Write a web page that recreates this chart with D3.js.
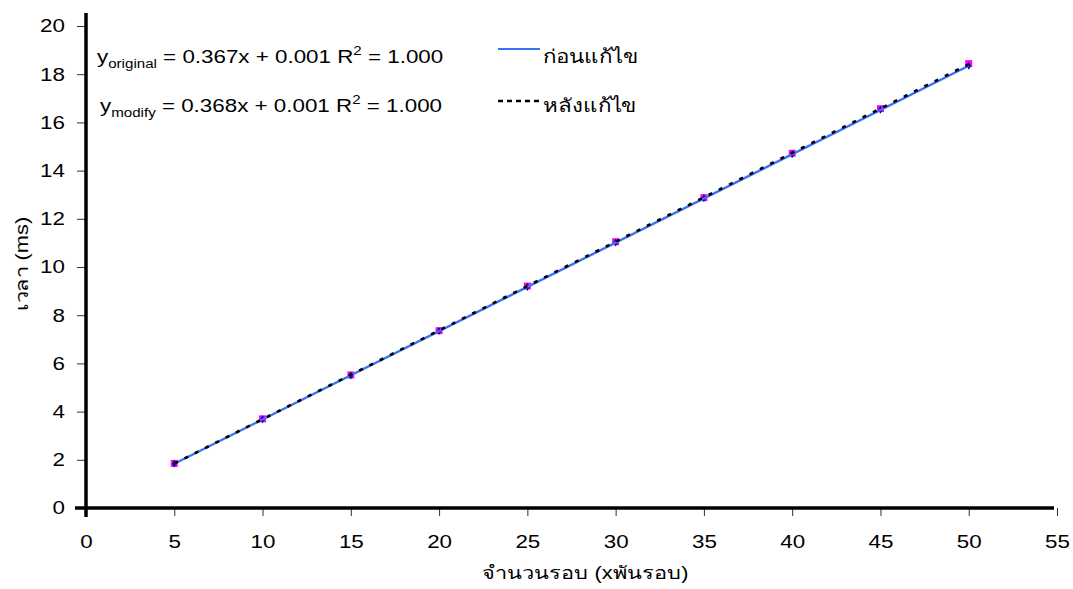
<!DOCTYPE html>
<html><head><meta charset="utf-8">
<script src="https://cdn.jsdelivr.net/npm/d3@7"></script>
<style>body{margin:0;background:#fff}text{font-family:"Liberation Sans",Arial,sans-serif}</style>
</head><body><svg id="c" width="1073" height="589"></svg>
<script>
const xValues = [5,10,15,20,25,30,35,40,45,50];
const originalValues = [1.84,3.68,5.50,7.34,9.17,11.01,12.85,14.68,16.52,18.35];
const modifyValues = [1.85,3.70,5.52,7.36,9.21,11.05,12.88,14.72,16.57,18.44];
const xTicks = [0,5,10,15,20,25,30,35,40,45,50,55];
const yTicks = [0,2,4,6,8,10,12,14,16,18,20];
const seriesNames = ["ก่อนแก้ไข","หลังแก้ไข"];
const equations = [
  {sub:"original", text:" = 0.367x + 0.001 R", r2:" = 1.000"},
  {sub:"modify", text:" = 0.368x + 0.001 R", r2:" = 1.000"}
];
const xTitle = "จำนวนรอบ (xพันรอบ)";
const yTitle = "เวลา (ms)";

const SX = 1.21, FS = 18.5;
const svg = d3.select("#c");
const x = d3.scaleLinear().domain([0,55]).range([86,1057]);
const y = d3.scaleLinear().domain([0,20]).range([508,26]);

function fit(xs, ys){
  const n=xs.length, mx=d3.mean(xs), my=d3.mean(ys);
  let sxy=0,sxx=0; for(let i=0;i<n;i++){sxy+=(xs[i]-mx)*(ys[i]-my);sxx+=(xs[i]-mx)**2;}
  const b=sxy/sxx; return {b, a:my-b*mx};
}
function stext(px, py, opts={}){
  return svg.append("g").attr("transform",`translate(${px},${py}) ${opts.rot?`rotate(${opts.rot})`:""} scale(${SX},1)`)
    .append("text").attr("font-size",opts.fs||FS).attr("fill","#000").attr("text-anchor",opts.anchor||"start");
}

// axes
const xAxis = d3.axisBottom(x).tickValues(xTicks).tickSize(8).tickPadding(19);
const gx = svg.append("g").attr("transform","translate(0,508)").call(xAxis);
gx.select(".domain").remove();
gx.selectAll("line").attr("stroke","#333");
gx.selectAll("text").attr("font-size",FS).attr("fill","#000").attr("transform",`scale(${SX},1)`);
const yAxis = d3.axisLeft(y).tickValues(yTicks).tickSize(9).tickPadding(8.5);
const gy = svg.append("g").attr("transform","translate(86,0)").call(yAxis);
gy.select(".domain").remove();
gy.selectAll("line").attr("stroke","#333");
gy.selectAll("text").attr("font-size",FS).attr("fill","#000").attr("transform",`scale(${SX},1)`);

svg.append("line").attr("x1",75).attr("x2",1054).attr("y1",508).attr("y2",508).attr("stroke","#000").attr("stroke-width",3.5);
svg.append("line").attr("x1",86).attr("x2",86).attr("y1",13).attr("y2",517).attr("stroke","#000").attr("stroke-width",3.5);

// markers
const g = svg.append("g");
g.selectAll(".sq").data(xValues).join("rect")
  .attr("x",(d,i)=>x(d)-3.5).attr("y",(d,i)=>y(modifyValues[i])-3.5)
  .attr("width",7).attr("height",7).attr("fill","#ff00ff");
g.selectAll(".dm").data(xValues).join("path")
  .attr("d",d3.symbol(d3.symbolDiamond,18))
  .attr("transform",(d,i)=>`translate(${x(d)},${y(originalValues[i])})`)
  .attr("fill","#000080");

// trendlines
const f1 = fit(xValues, originalValues), f2 = fit(xValues, modifyValues);
const xr = d3.extent(xValues);
const line = d3.line().x(d=>x(d[0])).y(d=>y(d[1]));
svg.append("path").attr("d",line(xr.map(v=>[v,f1.a+f1.b*v]))).attr("stroke","#3a72f5").attr("stroke-width",2.4).attr("fill","none");
svg.append("path").attr("d",line(xr.map(v=>[v,f2.a+f2.b*v]))).attr("stroke","#000").attr("stroke-width",2.6).attr("stroke-dasharray","4,7.5").attr("fill","none");

// equations
const eqPos = [[97,63],[100,112]];
equations.forEach((e,i)=>{
  const t = stext(eqPos[i][0], eqPos[i][1]);
  t.append("tspan").text("y");
  t.append("tspan").attr("font-size",12.5).attr("dy",5).text(e.sub);
  t.append("tspan").attr("dy",-5).text(e.text);
  t.append("tspan").attr("font-size",12.5).attr("dy",-8).text("2");
  t.append("tspan").attr("dy",8).text(e.r2);
});

// legend
const leg = [[49,63],[101,112]];
svg.append("line").attr("x1",498).attr("x2",540).attr("y1",leg[0][0]).attr("y2",leg[0][0]).attr("stroke","#3a72f5").attr("stroke-width",2.2);
svg.append("line").attr("x1",498).attr("x2",540).attr("y1",leg[1][0]).attr("y2",leg[1][0]).attr("stroke","#000").attr("stroke-width",2.6).attr("stroke-dasharray","5,4");
seriesNames.forEach((s,i)=>{
  stext(543, leg[i][1]).text(s);
});

// titles
stext(585, 579, {anchor:"middle", fs:18}).text(xTitle);
stext(28, 264, {anchor:"middle", fs:18, rot:-90}).text(yTitle);
</script></body></html>
